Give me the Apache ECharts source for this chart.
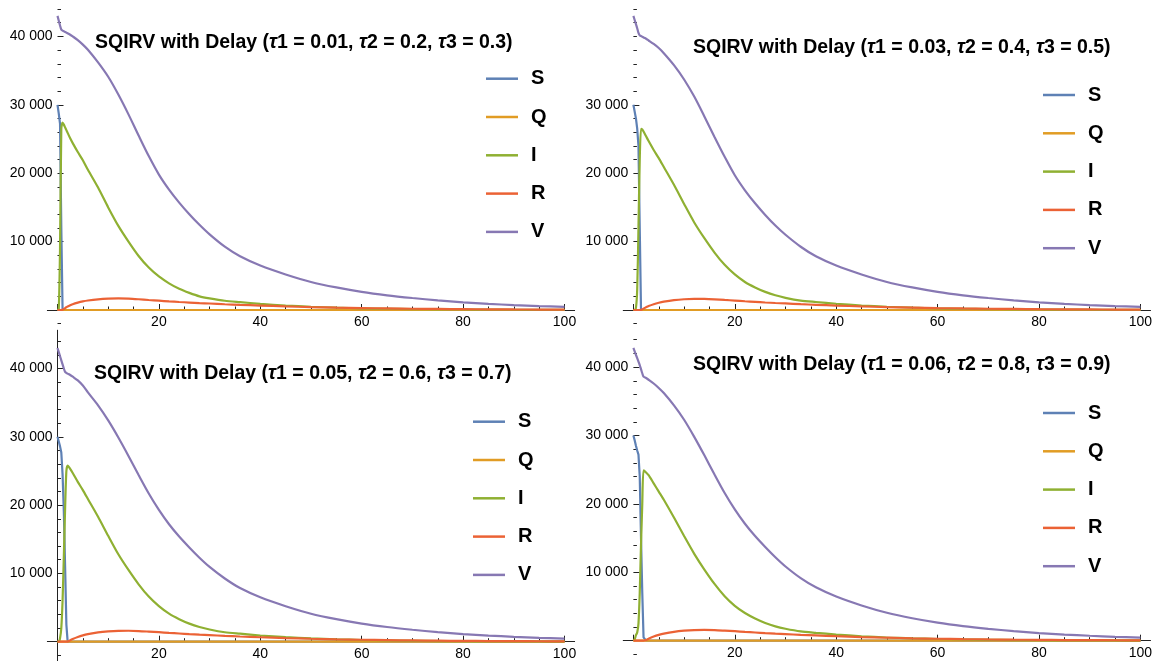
<!DOCTYPE html>
<html><head><meta charset="utf-8">
<script src="https://cdn.jsdelivr.net/npm/echarts@6/dist/echarts.min.js"></script>
<style>html,body{margin:0;padding:0;background:#fff}#c{width:1156px;height:661px}</style>
</head><body><div id="c"></div>
<script>
// ---------- data ----------
const t = [0,0.25,0.5,0.75,1,1.25,1.5,1.75,2,2.5,3,4,5,6,8,10,12,14,16,18,20,22,24,26,28,30,33,36,40,45,50,55,60,65,70,75,80,85,90,95,100];
const seriesNames = ['S','Q','I','R','V'];

const titles = [
  'SQIRV with Delay ({t|τ}1 = 0.01, {t|τ}2 = 0.2, {t|τ}3 = 0.3)',
  'SQIRV with Delay ({t|τ}1 = 0.03, {t|τ}2 = 0.4, {t|τ}3 = 0.5)',
  'SQIRV with Delay ({t|τ}1 = 0.05, {t|τ}2 = 0.6, {t|τ}3 = 0.7)',
  'SQIRV with Delay ({t|τ}1 = 0.06, {t|τ}2 = 0.8, {t|τ}3 = 0.9)'
];

const xMajorTicks = [0,20,40,60,80,100];
const xLabelTicks = [20,40,60,80,100];
const xMinorTicks = [5,10,15,25,30,35,45,50,55,65,70,75,85,90,95];
const yLabelTicksFull = [10000,20000,30000,40000];
const yLabelTicksNo40k = [10000,20000,30000];
const yMinorTicks = [-2000,2000,4000,6000,8000,12000,14000,16000,18000,22000,24000,26000,28000,32000,34000,36000,38000,42000,44000];
const yMinorTicksWith40k = [-2000,2000,4000,6000,8000,12000,14000,16000,18000,22000,24000,26000,28000,32000,34000,36000,38000,40000,42000,44000];

const zeros = [0,0,0,0,0,0,0,0,0,0,0,0,0,0,0,0,0,0,0,0,0,0,0,0,0,0,0,0,0,0,0,0,0,0,0,0,0,0,0,0,0];

// Panel 1 (tau1 = 0.01)
const p1S = [30000,28700,27200,12000,0,0,0,0,0,0,0,0,0,0,0,0,0,0,0,0,0,0,0,0,0,0,0,0,0,0,0,0,0,0,0,0,0,0,0,0,0];
const p1Q = zeros;
const p1I = [0,200,9000,26500,27400,27100,26700,26300,25900,25100,24400,23100,21900,20500,17900,15000,12300,10000,7900,6200,4900,3900,3100,2500,2000,1700,1350,1150,900,650,470,340,250,180,130,95,70,52,38,28,20];
const p1R = [0,0,0,0,30,150,280,400,500,680,850,1080,1260,1390,1560,1660,1700,1660,1570,1460,1360,1260,1170,1090,1010,950,840,750,650,530,430,350,285,230,185,150,120,97,78,63,50];
const p1V = [43000,42300,41600,41000,40850,40750,40650,40550,40450,40250,40000,39450,38800,38050,36200,34100,31500,28600,25500,22500,19800,17600,15700,14000,12450,11050,9250,7850,6500,5200,4100,3300,2650,2150,1750,1400,1120,900,720,570,450];

// Panel 2 (tau1 = 0.03)
const p2S = [30000,29000,28000,26500,24000,12000,0,0,0,0,0,0,0,0,0,0,0,0,0,0,0,0,0,0,0,0,0,0,0,0,0,0,0,0,0,0,0,0,0,0,0];
const p2Q = zeros;
const p2I = [0,0,300,3000,12000,22000,26500,26400,26100,25400,24700,23400,22200,20900,18300,15500,12800,10500,8400,6600,5200,4100,3300,2650,2150,1780,1380,1170,910,660,475,345,252,182,132,96,71,52,38,28,20];
const p2R = [0,0,0,0,0,0,20,100,200,400,580,850,1060,1220,1440,1570,1630,1620,1560,1470,1380,1280,1190,1100,1020,960,850,760,650,530,430,350,285,230,185,150,120,97,78,63,50];
const p2V = [43000,42400,41800,41200,40500,40150,40050,39950,39850,39650,39400,38900,38300,37550,35800,33700,31200,28300,25300,22400,19700,17500,15600,13900,12350,11000,9250,7850,6500,5200,4100,3300,2650,2150,1750,1400,1120,900,720,570,450];

// Panel 3 (tau1 = 0.05)
const p3S = [30000,29300,28600,27700,24500,19000,11000,2500,0,0,0,0,0,0,0,0,0,0,0,0,0,0,0,0,0,0,0,0,0,0,0,0,0,0,0,0,0,0,0,0,0];
const p3Q = zeros;
const p3I = [0,0,500,2000,6000,12500,19500,25000,25800,25300,24700,23400,22200,20900,18300,15500,12800,10500,8400,6600,5200,4100,3300,2650,2150,1780,1380,1170,910,660,475,345,252,182,132,96,71,52,38,28,20];
const p3R = [0,0,0,0,0,0,0,0,30,200,380,680,920,1100,1360,1510,1590,1600,1560,1480,1390,1290,1200,1110,1030,965,855,765,655,535,435,352,287,232,187,151,121,98,79,64,50];
const p3V = [43000,42400,41800,41200,40600,40000,39500,39350,39250,39050,38800,38250,37500,36500,34600,32400,29900,27200,24400,21700,19300,17200,15400,13800,12300,10950,9250,7850,6500,5200,4100,3300,2650,2150,1750,1400,1120,900,720,570,450];

// Panel 4 (tau1 = 0.06)
const p4S = [30000,29300,28500,27800,27200,24000,15000,7000,500,0,0,0,0,0,0,0,0,0,0,0,0,0,0,0,0,0,0,0,0,0,0,0,0,0,0,0,0,0,0,0,0];
const p4Q = zeros;
const p4I = [0,200,800,1200,2500,7000,14000,20000,24900,24600,24200,23000,21800,20600,18000,15300,12700,10400,8300,6500,5100,4050,3250,2600,2100,1750,1360,1150,900,650,470,340,250,180,130,95,70,52,38,28,20];
const p4R = [0,0,0,0,0,0,0,0,0,100,280,600,850,1040,1300,1460,1550,1570,1540,1470,1390,1290,1200,1110,1030,965,855,765,655,535,435,352,287,232,187,151,121,98,79,64,50];
const p4V = [42800,42300,41800,41300,40800,40300,39700,39100,38600,38400,38150,37600,36950,36200,34400,32300,29800,27100,24300,21600,19200,17100,15300,13700,12200,10850,9150,7800,6450,5150,4080,3280,2640,2140,1740,1400,1120,900,720,570,450];

const panelData = [
  [p1S,p1Q,p1I,p1R,p1V],
  [p2S,p2Q,p2I,p2R,p2V],
  [p3S,p3Q,p3I,p3R,p3V],
  [p4S,p4Q,p4I,p4R,p4V]
];
const panelYLabels = [yLabelTicksFull, yLabelTicksNo40k, yLabelTicksFull, yLabelTicksFull];
const panelYMinor = [yMinorTicks, yMinorTicksWith40k, yMinorTicks, yMinorTicks];

// ---------- layout / style ----------
const colors = ['#5E81B5','#E19C24','#8FB032','#EB6235','#8778B3'];
const smoothing = [0, 0, 0.25, 0.3, 0.3];
const FONT = 'Liberation Sans, Arial, sans-serif';
const layouts = [
  {x0:57.5, y0:310,   xs:5.07, ys:0.00684, xmin:-2, xmax:102, ymin:-2000, ymax:44000, tl:95,  tt:30.5, ll:486,  lt:68.7, yLine:false},
  {x0:633.4,y0:310,   xs:5.07, ys:0.00684, xmin:-2, xmax:102, ymin:-2000, ymax:44000, tl:693, tt:36,   ll:1043, lt:85,   yLine:false},
  {x0:57.5, y0:641.7, xs:5.07, ys:0.00683, xmin:-2, xmax:102, ymin:-2800, ymax:45600, tl:94,  tt:362,  ll:473,  lt:411.7,yLine:true},
  {x0:633.4,y0:640.7, xs:5.07, ys:0.00684, xmin:-2, xmax:102, ymin:-2000, ymax:44000, tl:693, tt:352.5,ll:1043, lt:403,  yLine:false}
];
const AX = '#222';

const grid=[], xAxis=[], yAxis=[], series=[], title=[], legend=[];
layouts.forEach((L, p) => {
  const gLeft = L.x0 + L.xmin*L.xs;
  const gTop = L.y0 - L.ymax*L.ys;
  const gH = (L.ymax-L.ymin)*L.ys;
  // labels are placed from the grid edge, so shift them back onto the zero lines
  const xLabelMargin = (L.y0 + 5) - (gTop + gH);
  const yLabelMargin = gLeft - (L.x0 - 5);
  grid.push({
    left: gLeft, width: (L.xmax-L.xmin)*L.xs, top: gTop, height: gH,
    containLabel:false, outerBoundsMode:'none'
  });
  xAxis.push({
    type:'value', gridIndex:p, min:L.xmin, max:L.xmax, position:'bottom',
    axisLine:{show:true, onZero:true, lineStyle:{color:AX, width:1}},
    axisTick:{show:true, inside:true, length:6, customValues:xMajorTicks, lineStyle:{color:AX, width:1}},
    axisLabel:{show:true, customValues:xLabelTicks, margin:xLabelMargin, color:'#000', fontSize:14, fontFamily:FONT},
    splitLine:{show:false}
  });
  xAxis.push({
    type:'value', gridIndex:p, min:L.xmin, max:L.xmax, position:'bottom',
    axisLine:{show:false, onZero:true},
    axisTick:{show:true, inside:true, length:3.5, customValues:xMinorTicks, lineStyle:{color:AX, width:1}},
    axisLabel:{show:false}, splitLine:{show:false}
  });
  const labs = panelYLabels[p];
  yAxis.push({
    type:'value', gridIndex:p, min:L.ymin, max:L.ymax, position:'left',
    axisLine:{show:L.yLine, onZero:true, lineStyle:{color:AX, width:1}},
    axisTick:{show:true, inside:true, length:6, customValues:labs, lineStyle:{color:AX, width:1}},
    axisLabel:{show:true, customValues:labs, margin:yLabelMargin, color:'#000', fontSize:14, fontFamily:FONT,
      formatter:v => { const s=String(Math.round(v)); return s.slice(0,s.length-3)+' '+s.slice(-3); }},
    splitLine:{show:false}
  });
  yAxis.push({
    type:'value', gridIndex:p, min:L.ymin, max:L.ymax, position:'left',
    axisLine:{show:false, onZero:true},
    axisTick:{show:true, inside:true, length:3.5, customValues:panelYMinor[p], lineStyle:{color:AX, width:1}},
    axisLabel:{show:false}, splitLine:{show:false}
  });
  title.push({
    text: titles[p], left:L.tl, top:L.tt, padding:0,
    textStyle:{fontSize:19.5, fontWeight:'bold', fontFamily:FONT, color:'#000', lineHeight:24,
      rich:{t:{fontSize:19.5, fontWeight:'bold', fontStyle:'italic', fontFamily:FONT, color:'#000', lineHeight:24}}}
  });
  legend.push({
    orient:'vertical', left:L.ll, top:L.lt, padding:0, itemWidth:32, itemHeight:2.5, itemGap:18.3,
    icon:'rect', selectedMode:false, data:seriesNames,
    textStyle:{fontSize:20, fontWeight:'bold', fontFamily:FONT, color:'#000', lineHeight:20, padding:[0,0,0,8]}
  });
  panelData[p].forEach((arr, k) => {
    series.push({
      type:'line', name:seriesNames[k], xAxisIndex:2*p, yAxisIndex:2*p,
      data: t.map((x,i)=>[x, arr[i]]),
      showSymbol:false, symbol:'none', silent:true, animation:false,
      smooth: smoothing[k],
      color:colors[k],
      itemStyle:{color:colors[k]},
      lineStyle:{color:colors[k], width:2.2}
    });
  });
});

const chart = echarts.init(document.getElementById('c'), null, {renderer:'canvas'});
chart.setOption({backgroundColor:'#fff', animation:false, grid, xAxis, yAxis, title, legend, series});
</script>
</body></html>
